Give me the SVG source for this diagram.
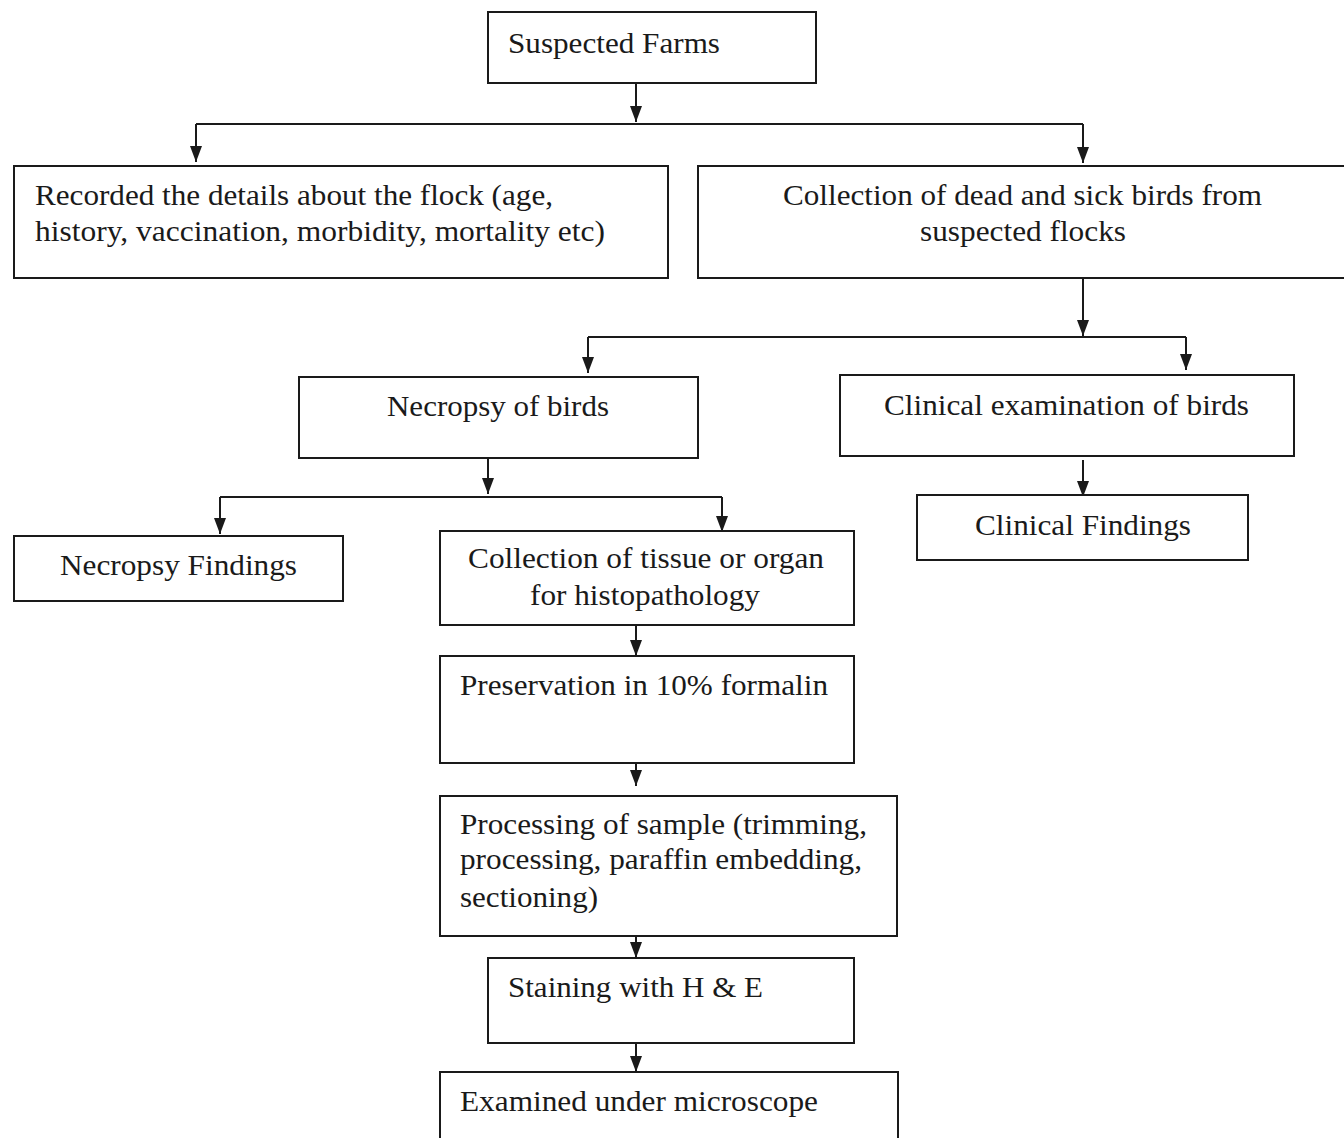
<svg xmlns="http://www.w3.org/2000/svg" width="1344" height="1138" viewBox="0 0 1344 1138">
<style>
.b{fill:#fff;stroke:#1a1a1a;stroke-width:2}
.t{font-family:"Liberation Serif","Times New Roman",serif;font-size:29px;fill:#1a1a1a}
.c{fill:none;stroke:#1a1a1a;stroke-width:2}
</style>
<defs>
<marker id="m" markerWidth="16" markerHeight="12" refX="16" refY="6" orient="auto" markerUnits="userSpaceOnUse" viewBox="0 0 16 12">
<path d="M0,0 L16,6 L0,12 Z" fill="#1a1a1a"/>
</marker>
</defs>
<rect width="1344" height="1138" fill="#fff"/>
<g id="connectors">
<path class="c" d="M636,83 V122" marker-end="url(#m)"/>
<path class="c" d="M196,124 H1083"/>
<path class="c" d="M196,124 V162" marker-end="url(#m)"/>
<path class="c" d="M1083,124 V163" marker-end="url(#m)"/>
<path class="c" d="M1083,278 V336" marker-end="url(#m)"/>
<path class="c" d="M588,337 H1186"/>
<path class="c" d="M588,337 V373" marker-end="url(#m)"/>
<path class="c" d="M1186,337 V370" marker-end="url(#m)"/>
<path class="c" d="M488,458 V494" marker-end="url(#m)"/>
<path class="c" d="M220,497 H722"/>
<path class="c" d="M220,497 V534" marker-end="url(#m)"/>
<path class="c" d="M722,497 V532" marker-end="url(#m)"/>
<path class="c" d="M1083,460 V497" marker-end="url(#m)"/>
<path class="c" d="M636,618 V656" marker-end="url(#m)"/>
<path class="c" d="M636,745 V786" marker-end="url(#m)"/>
<path class="c" d="M636,913 V958" marker-end="url(#m)"/>
<path class="c" d="M636,1024 V1072" marker-end="url(#m)"/>
</g>
<g id="n1"><rect class="b" x="488" y="12" width="328" height="71"/><text class="t" x="508" y="53" textLength="212" lengthAdjust="spacingAndGlyphs">Suspected Farms</text></g>
<g id="n2"><rect class="b" x="14" y="166" width="654" height="112"/>
<text class="t" x="35" y="205" textLength="518" lengthAdjust="spacingAndGlyphs">Recorded the details about the flock (age,</text>
<text class="t" x="35" y="241" textLength="570" lengthAdjust="spacingAndGlyphs">history, vaccination, morbidity, mortality etc)</text></g>
<g id="n3"><rect class="b" x="698" y="166" width="650" height="112"/>
<text class="t" x="783" y="205" textLength="479" lengthAdjust="spacingAndGlyphs">Collection of dead and sick birds from</text>
<text class="t" x="920" y="241" textLength="206" lengthAdjust="spacingAndGlyphs">suspected flocks</text></g>
<g id="n4"><rect class="b" x="299" y="377" width="399" height="81"/><text class="t" x="387" y="416" textLength="222" lengthAdjust="spacingAndGlyphs">Necropsy of birds</text></g>
<g id="n5"><rect class="b" x="840" y="375" width="454" height="81"/><text class="t" x="884" y="415" textLength="365" lengthAdjust="spacingAndGlyphs">Clinical examination of birds</text></g>
<g id="n6"><rect class="b" x="917" y="495" width="331" height="65"/><text class="t" x="975" y="535" textLength="216" lengthAdjust="spacingAndGlyphs">Clinical Findings</text></g>
<g id="n7"><rect class="b" x="14" y="536" width="329" height="65"/><text class="t" x="60" y="575" textLength="237" lengthAdjust="spacingAndGlyphs">Necropsy Findings</text></g>
<g id="n8"><rect class="b" x="440" y="531" width="414" height="94"/>
<text class="t" x="468" y="568" textLength="356" lengthAdjust="spacingAndGlyphs">Collection of tissue or organ</text>
<text class="t" x="530" y="605" textLength="230" lengthAdjust="spacingAndGlyphs">for histopathology</text></g>
<g id="n9"><rect class="b" x="440" y="656" width="414" height="107"/><text class="t" x="460" y="695" textLength="368" lengthAdjust="spacingAndGlyphs">Preservation in 10% formalin</text></g>
<g id="n10"><rect class="b" x="440" y="796" width="457" height="140"/>
<text class="t" x="460" y="834" textLength="407" lengthAdjust="spacingAndGlyphs">Processing of sample (trimming,</text>
<text class="t" x="460" y="869" textLength="402" lengthAdjust="spacingAndGlyphs">processing, paraffin embedding,</text>
<text class="t" x="460" y="907" textLength="138" lengthAdjust="spacingAndGlyphs">sectioning)</text></g>
<g id="n11"><rect class="b" x="488" y="958" width="366" height="85"/><text class="t" x="508" y="997" textLength="255" lengthAdjust="spacingAndGlyphs">Staining with H &amp; E</text></g>
<g id="n12"><rect class="b" x="440" y="1072" width="458" height="80"/><text class="t" x="460" y="1111" textLength="358" lengthAdjust="spacingAndGlyphs">Examined under microscope</text></g>
</svg>
